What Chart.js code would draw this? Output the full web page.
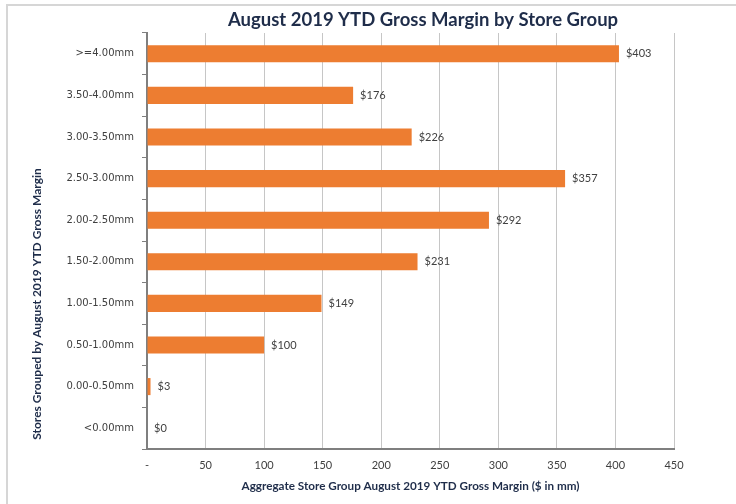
<!DOCTYPE html>
<html>
<head>
<meta charset="utf-8">
<script src="https://cdn.jsdelivr.net/npm/chart.js@4/dist/chart.umd.min.js"></script>
<style>
  html, body { margin: 0; padding: 0; background: #ffffff; }
  canvas { display: block; }
</style>
</head>
<body>
<canvas id="chart" width="736" height="504"></canvas>
<script>
// Store groups (top to bottom) and their YTD gross margin, $ in mm
const storeGroups = ['>=4.00mm', '3.50-4.00mm', '3.00-3.50mm', '2.50-3.00mm', '2.00-2.50mm',
                     '1.50-2.00mm', '1.00-1.50mm', '0.50-1.00mm', '0.00-0.50mm', '<0.00mm'];
const grossMargin = [403, 176, 226, 357, 292, 231, 149, 100, 3, 0];
const marginTicks = [0, 50, 100, 150, 200, 250, 300, 350, 400, 450];

const chartTitle = 'August 2019 YTD Gross Margin by Store Group';
const xAxisTitle = 'Aggregate Store Group August 2019 YTD Gross Margin ($ in mm)';
const yAxisTitle = 'Stores Grouped by August 2019 YTD Gross Margin';

const FONT = 'Lato, "Open Sans", sans-serif';
const WIDE_FONT = '"DejaVu Sans", sans-serif';
const TITLE_COLOR = '#1f2d4a';
const LABEL_COLOR = '#404040';

// Frame, titles and value labels drawn onto the canvas
const decorations = {
  id: 'decorations',
  beforeDraw(chart) {
    const ctx = chart.ctx;
    ctx.save();
    ctx.fillStyle = '#ffffff';
    ctx.fillRect(0, 0, chart.width, chart.height);
    ctx.strokeStyle = '#d6d6d6';
    ctx.lineWidth = 2;
    ctx.beginPath();
    ctx.moveTo(7, chart.height);
    ctx.lineTo(7, 5);
    ctx.lineTo(chart.width, 5);
    ctx.stroke();
    ctx.restore();
  },
  afterDatasetsDraw(chart) {
    const ctx = chart.ctx;
    const meta = chart.getDatasetMeta(0);
    ctx.save();
    ctx.font = '11px ' + FONT;
    ctx.fillStyle = LABEL_COLOR;
    ctx.textAlign = 'left';
    ctx.textBaseline = 'middle';
    meta.data.forEach((bar, i) => {
      ctx.fillText('$' + grossMargin[i], bar.x + 7, bar.y);
    });
    ctx.restore();
  },
  afterDraw(chart) {
    const ctx = chart.ctx;
    const area = chart.chartArea;
    ctx.save();
    ctx.fillStyle = TITLE_COLOR;
    ctx.textAlign = 'center';
    ctx.textBaseline = 'middle';
    ctx.font = 'bold 18.5px ' + FONT;
    ctx.fillText(chartTitle, 423, 20);
    ctx.font = 'bold 11.7px ' + FONT;
    ctx.fillText(xAxisTitle, (area.left + area.right) / 2, 486);
    ctx.font = 'bold 12px ' + FONT;
    ctx.translate(37, 304);
    ctx.rotate(-Math.PI / 2);
    ctx.fillText(yAxisTitle, 0, 0);
    ctx.restore();
  }
};

new Chart(document.getElementById('chart'), {
  type: 'bar',
  data: {
    labels: storeGroups,
    datasets: [{
      data: grossMargin,
      backgroundColor: '#ed7d31',
      borderWidth: 0,
      barPercentage: 0.41,
      categoryPercentage: 1.0
    }]
  },
  options: {
    indexAxis: 'y',
    responsive: false,
    animation: false,
    devicePixelRatio: 1,
    layout: { padding: { top: 33, right: 62, bottom: 0, left: 0 } },
    plugins: {
      legend: { display: false },
      title: { display: false },
      tooltip: { enabled: false }
    },
    scales: {
      x: {
        type: 'linear',
        min: marginTicks[0],
        max: marginTicks[marginTicks.length - 1],
        afterBuildTicks(scale) {
          scale.ticks = marginTicks.map(v => ({ value: v }));
        },
        afterFit(scale) { scale.height = 55; },
        grid: { color: '#c6c6c6', lineWidth: 1, drawTicks: false },
        border: { color: '#7f7f7f', width: 2 },
        ticks: {
          padding: 10,
          color: LABEL_COLOR,
          font: { family: FONT, size: 11 },
          callback: v => (v === 0 ? '-' : v)
        }
      },
      y: {
        type: 'category',
        afterFit(scale) { scale.width = 147; },
        grid: { offset: true, drawOnChartArea: false, tickLength: 5, color: '#7f7f7f' },
        border: { color: '#7f7f7f', width: 2 },
        ticks: {
          padding: 8,
          color: LABEL_COLOR,
          font: { family: WIDE_FONT, size: 10 }
        }
      }
    }
  },
  plugins: [decorations]
});
</script>
</body>
</html>
